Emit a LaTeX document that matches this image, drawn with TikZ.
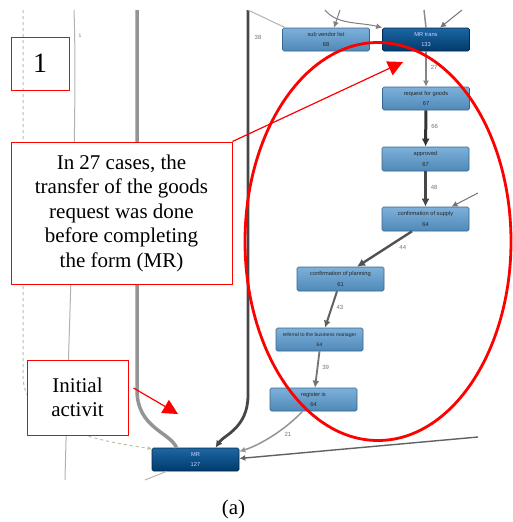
\documentclass[tikz,border=0pt]{standalone}
\usepackage{fontspec}
\setmainfont{Liberation Serif}
\newfontfamily\appfont{Liberation Sans}
\usetikzlibrary{arrows.meta,shapes.geometric}
\definecolor{lbA}{HTML}{7DB1DA}
\definecolor{lbB}{HTML}{4F88B8}
\definecolor{lbD}{HTML}{35668F}
\definecolor{dbA}{HTML}{1C67A3}
\definecolor{dbB}{HTML}{003A6C}
\definecolor{dbD}{HTML}{00284C}
\definecolor{dashg}{HTML}{B4C2A6}
\tikzset{
  act/.style={rectangle, rounded corners=1.5pt, minimum width=87pt, minimum height=23pt,
    inner sep=0pt, top color=lbA, bottom color=lbB, draw=lbD, line width=0.6pt,
    font=\appfont\fontsize{5.7}{7.5}\selectfont, text=black!85, align=center},
  actdark/.style={act, top color=dbA, bottom color=dbB, draw=dbD, text=white!80!blue!90},
  lab/.style={font=\appfont\fontsize{6}{7}\selectfont, text=black!55, inner sep=1pt},
  tip/.style={-{Latex[length=6pt,width=6pt]}},
  redbox/.style={draw=red, line width=1pt, align=center, inner sep=0pt,
    font=\fontsize{21}{24.5}\selectfont},
  redarrow/.style={draw=red, line width=1.2pt, -{Triangle[length=15pt,width=15pt]}, red}
}
\begin{document}
\begin{tikzpicture}[x=1pt,y=-1pt]
\useasboundingbox (0,0) rectangle (513,522);

% nodes
\node[act] (svl) at (326,39.5) {sub vendor list\\[3pt]68};
\node[actdark] (mrt) at (426,39.5) {MR trans\\[3pt]133};
\node[act] (rfg) at (426,98.5) {request for goods\\[3pt]67};
\node[act, minimum height=24pt] (apr) at (425.5,159) {approved\\[3pt]67};
\node[act, minimum height=24pt] (cs) at (425.5,219) {confirmation of supply\\[3pt]64};
\node[act, minimum height=24pt] (cp) at (340.5,279) {confirmation of planning\\[3pt]61};
\node[act, font=\appfont\fontsize{5.1}{7.5}\selectfont] (ref) at (319.5,339.5) {referral to the business manager\\[3pt]64};
\node[act] (reg) at (313.5,399.5) {register is\\[3pt]64};
\node[actdark] (mr) at (195.5,459.5) {MR\\[3pt]127};

% free ends
\coordinate (dtop) at (23,10);
\coordinate (g1top) at (74,10);
\coordinate (g1bot) at (65,480);
\coordinate (gtop) at (137,10);
\coordinate (ktop) at (248,10);
\coordinate (atop) at (325,10);
\coordinate (btop) at (340,10);
\coordinate (ctop) at (424,10);
\coordinate (etop) at (462,10);
\coordinate (csin) at (478,193);
\coordinate (rin) at (478,437);
\coordinate (mrout) at (145,480);

% background flows
\draw[dashg, line width=1pt, dash pattern=on 3pt off 3pt, -{Latex[length=4pt,width=4pt]}]
  (dtop) -- (23,375) .. controls (23,425) and (90,440) .. ([yshift=-1pt]mr.north west);
\draw[black!30, line width=1pt] (g1top) .. controls (78,120) and (68,350) .. (g1bot);
\node[lab, font=\appfont\fontsize{5}{6}\selectfont] (l1) at (80,36) {1};
\draw[black!42, line width=3.5pt] (gtop) -- (137,390) .. controls (137,428) and (170,432) .. ([xshift=-19pt]mr.north);
\draw[black!72, line width=2.8pt, -{Latex[length=7pt,width=7pt]}] (ktop) -- (248,395) .. controls (248,428) and (224,435) .. ([xshift=20pt]mr.north);
\node[lab] (l38) at (258,37) {38};
\draw[black!30, line width=1pt] (ktop) -- ([xshift=3pt]svl.north west);
\draw[black!50, line width=1pt, tip] (atop) .. controls (337,25) and (360,22) .. (mrt.north west);
\draw[black!50, line width=1pt, tip] (btop) -- ([xshift=8pt]svl.north);
\draw[black!45, line width=1.5pt] (ctop) -- (mrt.north);
\draw[black!55, line width=1pt, tip] (etop) -- ([xshift=14pt]mrt.north);
\draw[black!55, line width=1pt, tip] (csin) -- ([xshift=26pt]cs.north);

% main path
\draw[black!48, line width=1.5pt, tip] (mrt) -- (rfg) node[lab, pos=0.45, right=3pt] {27};
\draw[black!80, line width=3pt, -{Latex[length=8pt,width=8pt]}] (rfg) -- (apr) node[lab, pos=0.45, right=3pt] {66};
\draw[black!72, line width=2.6pt, -{Latex[length=8pt,width=8pt]}] (apr) -- (cs) node[lab, pos=0.45, right=3pt] {48};
\draw[black!68, line width=2.4pt, -{Latex[length=8pt,width=8pt]}] ([xshift=-13.5pt]cs.south) -- ([xshift=16.5pt]cp.north) node[lab, pos=0.45, right=10pt] {44};
\draw[black!62, line width=2pt, -{Latex[length=7pt,width=7pt]}] ([xshift=-3.5pt]cp.south) -- ([xshift=5.5pt]ref.north) node[lab, pos=0.45, right=3pt] {43};
\draw[black!55, line width=1.8pt, -{Latex[length=7pt,width=7pt]}] (ref.south) -- ([xshift=1.5pt]reg.north) node[lab, pos=0.45, right=3pt] {39};
\draw[black!42, line width=1.5pt, tip] ([xshift=-11pt]reg.south) .. controls (285,430) and (260,445) .. ([yshift=8pt]mr.east) node[lab, pos=0.35, below right=1pt] {21};
\draw[black!62, line width=1.4pt, tip] (rin) -- ([yshift=1pt]mr.east);
\draw[black!30, line width=1pt] ([xshift=15pt]mr.south west) -- (mrout);

% annotations
\node[draw=red, line width=2.8pt, ellipse, minimum width=266pt, minimum height=398pt, inner sep=0pt] (ell) at (378,241.5) {};
\node[redbox, minimum width=58pt, minimum height=53pt, font=\fontsize{28}{30}\selectfont] (b1) at (40,63.5) {1};
\node[redbox, minimum width=221pt, minimum height=142pt, fill=white] (tb) at (121.5,213)
  {In 27 cases, the\\transfer of the goods\\request was done\\before completing\\the form (MR)};
\coordinate (tip1) at (403,62);
\draw[redarrow] (tb.north east) -- (tip1);
\node[redbox, minimum width=101pt, minimum height=75pt, fill=white] (ia) at (77.5,397.5) {Initial\\activit};
\coordinate (tip2) at (178,414);
\draw[redarrow] ([shift={(5pt,9.5pt)}]ia.east) -- (tip2);
\node[font=\fontsize{21}{24}\selectfont, inner sep=0pt] (cap) at (233.5,509) {(a)};
\end{tikzpicture}
\end{document}
